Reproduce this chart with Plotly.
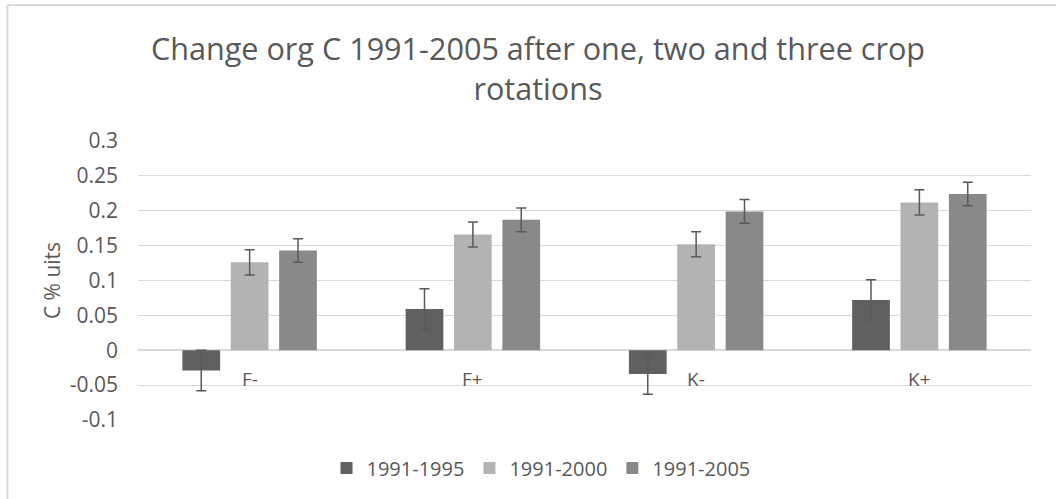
import plotly.graph_objects as go

# Treatments and the three periods compared
categories = ["F-", "F+", "K-", "K+"]
series_names = ["1991-1995", "1991-2000", "1991-2005"]

# Change in organic C (% units) per treatment
y_1995 = [-0.029, 0.059, -0.034, 0.072]
y_2000 = [0.126, 0.166, 0.152, 0.212]
y_2005 = [0.143, 0.187, 0.199, 0.224]

# Error bar half-lengths
err_1995 = [0.029, 0.029, 0.029, 0.029]
err_2000 = [0.018, 0.018, 0.018, 0.018]
err_2005 = [0.017, 0.017, 0.017, 0.017]

# Y axis ticks
tick_vals = [-0.1, -0.05, 0, 0.05, 0.1, 0.15, 0.2, 0.25, 0.3]
tick_text = ["-0.1", "-0.05", "0", "0.05", "0.1", "0.15", "0.2", "0.25", "0.3"]

colors = ["#606060", "#b3b3b3", "#898989"]
text_color = "#595959"
grid_color = "#d9d9d9"
font_family = "Open Sans"

W, H = 1056, 499
L, R, T, B = 138, 25, 141, 79
plot_w = W - L - R
plot_h = H - T - B

fig = go.Figure()
for name, vals, errs, col in zip(series_names, [y_1995, y_2000, y_2005],
                                 [err_1995, err_2000, err_2005], colors):
    fig.add_trace(go.Bar(
        x=categories, y=vals, name=name,
        marker=dict(color=col, line=dict(width=0)),
        error_y=dict(type="data", array=errs, visible=True,
                     color="#595959", thickness=1.5, width=5),
    ))

# Category labels sit just under the zero line
for c in categories:
    fig.add_annotation(x=c, y=0, xref="x", yref="y", text=c, showarrow=False,
                       yshift=-29, font=dict(family=font_family, size=19, color=text_color))

def px_x(p):
    return (p - L) / plot_w

def px_y(p):
    return (H - B - p) / plot_h

# Chart frame (top and left edges)
fig.add_shape(type="line", xref="paper", yref="paper",
              x0=px_x(7.5), x1=px_x(1070), y0=px_y(5), y1=px_y(5),
              line=dict(color=grid_color, width=2))
fig.add_shape(type="line", xref="paper", yref="paper",
              x0=px_x(7.5), x1=px_x(7.5), y0=px_y(5), y1=px_y(510),
              line=dict(color=grid_color, width=2))

fig.update_layout(
    width=W, height=H,
    margin=dict(l=L, r=R, t=T, b=B, autoexpand=False),
    paper_bgcolor="white", plot_bgcolor="white",
    barmode="group", bargap=0.35, bargroupgap=0.22,
    font=dict(family=font_family, color=text_color, size=20),
    title=dict(text="Change org C 1991-2005 after one, two and three crop<br>rotations",
               x=538 / W, xanchor="center", xref="container",
               y=1 - 60 / H, yanchor="middle", yref="container",
               font=dict(family=font_family, size=30.6, color=text_color)),
    xaxis=dict(showticklabels=False, showgrid=False, showline=False, ticks="",
               zeroline=False),
    yaxis=dict(range=[-0.1, 0.3], tickvals=tick_vals, ticktext=tick_text,
               showgrid=True, gridcolor=grid_color, gridwidth=1.3,
               zeroline=True, zerolinecolor=grid_color, zerolinewidth=1.6,
               showline=False, ticks="", ticklabelstandoff=19,
               tickfont=dict(family=font_family, size=21, color=text_color),
               title=dict(text="C % uits", standoff=3,
                          font=dict(family=font_family, size=21, color=text_color))),
    legend=dict(orientation="h", x=px_x(541), xanchor="center",
                y=px_y(468), yanchor="middle",
                font=dict(family=font_family, size=20, color=text_color),
                itemwidth=30, traceorder="normal"),
    showlegend=True,
)

fig.write_html("out.html")
